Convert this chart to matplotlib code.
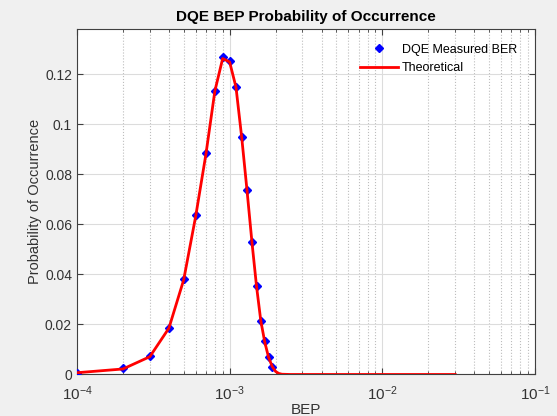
import matplotlib.pyplot as plt
from matplotlib.ticker import LogLocator, NullFormatter

# Datos medidos (BEP, probabilidad)
bep_med = [1e-4, 2e-4, 3e-4, 4e-4, 5e-4, 6e-4, 7e-4, 8e-4, 9e-4, 1e-3,
           1.1e-3, 1.2e-3, 1.3e-3, 1.4e-3, 1.5e-3, 1.6e-3, 1.7e-3, 1.8e-3, 1.9e-3]
prob_med = [0.0007, 0.0025, 0.0074, 0.0187, 0.038, 0.0636, 0.0883, 0.1134, 0.1267, 0.1251,
            0.115, 0.0948, 0.0736, 0.053, 0.0354, 0.0215, 0.0134, 0.0069, 0.0031]

# Curva teórica
bep_teo = [1e-4, 2e-4, 3e-4, 4e-4, 5e-4, 6e-4, 7e-4, 8e-4, 9e-4, 1e-3,
           1.1e-3, 1.2e-3, 1.3e-3, 1.4e-3, 1.5e-3, 1.6e-3, 1.7e-3, 1.8e-3, 1.9e-3,
           2e-3, 2.1e-3, 2.2e-3, 2.5e-3, 3e-3, 1e-2, 3e-2]
prob_teo = [0.0007, 0.0022, 0.0071, 0.0185, 0.0378, 0.0634, 0.0882, 0.1132, 0.1262, 0.1248,
            0.1148, 0.0946, 0.0734, 0.0528, 0.0352, 0.0214, 0.0128, 0.0068, 0.0032,
            0.0012, 0.0004, 0.0001, 0.0, 0.0, 0.0, 0.0]

plt.rcParams['font.family'] = ['Liberation Sans', 'DejaVu Sans']
plt.rcParams['mathtext.fontset'] = 'custom'
plt.rcParams['mathtext.rm'] = 'Liberation Sans'

fig = plt.figure(figsize=(5.57, 4.16), dpi=100, facecolor='#f0f0f0')
ax = fig.add_axes([0.1382, 0.0998, 0.8223, 0.8305])
ax.set_facecolor('white')

ax.plot(bep_med, prob_med, 'bD', markersize=4.5, label='DQE Measured BER', zorder=3)
ax.plot(bep_teo, prob_teo, color='red', linewidth=2, label='Theoretical', zorder=4)

ax.set_xscale('log')
ax.set_xlim(1e-4, 1e-1)
ax.set_ylim(0, 0.138)
ax.set_yticks([0, 0.02, 0.04, 0.06, 0.08, 0.1, 0.12])
ax.set_yticklabels(['0', '0.02', '0.04', '0.06', '0.08', '0.1', '0.12'])
ax.xaxis.set_minor_locator(LogLocator(base=10, subs=range(2, 10)))
ax.xaxis.set_minor_formatter(NullFormatter())

ax.grid(True, which='major', color='#dcdcdc', linewidth=0.8)
ax.grid(True, which='minor', axis='x', color='#bdbdbd', linestyle=':', linewidth=0.8)
ax.set_axisbelow(True)

for s in ax.spines.values():
    s.set_color('#404040')
ax.tick_params(which='both', direction='in', top=True, right=True, colors='#404040',
               labelcolor='#333333', labelsize=10)
ax.tick_params(axis='x', which='major', pad=7, labelsize=11)
ax.tick_params(which='major', length=4)
ax.tick_params(which='minor', length=2)

ax.set_title('DQE BEP Probability of Occurrence', fontsize=11, fontweight='bold', pad=6)
ax.set_xlabel('BEP', fontsize=11, color='#333333', labelpad=0)
ax.set_ylabel('Probability of Occurrence', fontsize=10.5, color='#333333', labelpad=2)

ax.legend(loc='upper right', frameon=False, fontsize=9, handlelength=3,
          handletextpad=0.3, bbox_to_anchor=(0.985, 0.99))

fig.savefig('out.png', dpi=100, facecolor=fig.get_facecolor())
